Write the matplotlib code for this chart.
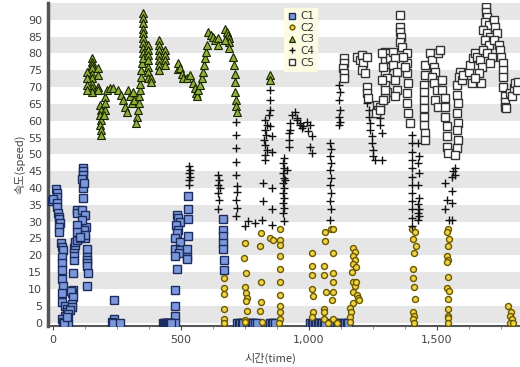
import numpy as np
import matplotlib
matplotlib.use("Agg")
import matplotlib.pyplot as plt
from matplotlib.ticker import MultipleLocator, FuncFormatter

plt.rcParams['font.family'] = ['DejaVu Sans', 'Noto Sans CJK KR']

# (time, speed) points, one list per cluster class
c1_pts = [
    (12, 39.8), (16, 38.6), (16, 37.4), (-4, 36.2), (0, 36.6), (16, 35.6), (16, 34.4),
    (20, 32.6), (23, 31.5), (23, 30.8), (27, 29.7), (23, 28.5), (23, 26.8), (31, 23.7),
    (35, 22.6), (39, 21.7), (35, 19.6), (35, 17.8), (35, 15.7), (35, 13), (39, 10.8),
    (35, 8.9), (35, 6), (47, 5), (55, 4), (55, 3), (47, 2), (35, 1), (39, 0.3), (59, 0),
    (42, 0), (78, 9.8), (74, 8.9), (70, 9.5), (78, 7.7), (74, 5.6), (74, 4.7), (67, 3.6),
    (59, 2.4), (55, 1.5), (78, 14.8), (82, 18.7), (82, 20.7), (82, 22.2), (86, 23.1),
    (86, 24), (94, 24.6), (102, 26.7), (98, 28.5), (106, 25), (125, 25.2), (129, 28.5),
    (133, 22), (133, 19.6), (133, 18.6), (133, 17.8), (133, 16.8), (137, 14.8), (133, 10.8),
    (94, 33.5), (94, 32.6), (113, 33.5), (125, 32), (121, 27.6), (113, 30.6), (94, 29),
    (94, 27), (125, 26), (106, 25.5), (117, 40), (117, 37), (117, 46), (117, 45),
    (117, 44), (113, 42.7), (121, 41.6),
    (239, 6.8), (239, 1), (231, 0.3), (235, 0), (262, 0),
    (485, 32), (489, 31), (497, 30), (481, 29), (489, 27.6), (485, 26.7), (477, 25),
    (497, 24), (477, 22), (497, 21.7), (493, 20.7), (477, 19.9), (485, 16), (477, 9.8),
    (477, 5), (477, 1.8), (477, 0),
    (528, 37.7), (528, 33.8), (528, 30.9), (528, 25.8), (524, 22), (524, 19.6), (524, 19),
    (430, 0), (434, 0), (438, 0), (442, 0), (446, 0), (450, 0), (454, 0), (458, 0), (462, 0),
    (665, 30.9), (665, 27.6), (665, 25.8), (665, 23.7), (665, 22), (669, 18.7), (669, 15.7),
    (720, 0), (726, 0), (732, 0), (738, 0), (744, 0), (760, 0), (766, 0), (772, 0), (778, 0),
    (784, 0), (790, 0), (796, 0), (850, 0), (856, 0), (862, 0), (868, 0),
    (1005, 0), (1011, 0), (1017, 0), (1023, 0), (1029, 0), (1035, 0), (1041, 0), (1047, 0),
    (1053, 0), (1059, 0), (1065, 0), (1098, 0), (1104, 0), (1110, 0), (1116, 0),
    (1136, 0), (1142, 0), (1148, 0), (1154, 0),
]

c2_pts = [
    (669, 13.3), (669, 10.4), (669, 8.5), (669, 3.9), (669, 1), (669, 0),
    (750, 23.7), (746, 19.2), (755, 14.8), (750, 10.7), (755, 8.9), (759, 7.4), (755, 6.3),
    (759, 3.3), (750, 0.9), (752, 0.3),
    (814, 26.7), (810, 22.8), (814, 11.9), (814, 6.2), (810, 3.3), (818, 0.3),
    (849, 25.2), (861, 24.6), (888, 27.9), (888, 24.6), (888, 23), (888, 19.9), (888, 16),
    (888, 11.9), (888, 8.3), (888, 5), (889, 3), (889, 1), (884, 0),
    (1013, 20.8), (1013, 16.9), (1013, 14.2), (1013, 10), (1017, 8), (1017, 3), (1013, 1.5),
    (1064, 26.8), (1064, 24.3), (1060, 16.9), (1060, 14.2), (1068, 9), (1060, 4), (1060, 3),
    (1060, 1), (1088, 27.9), (1095, 27.9), (1095, 20.8), (1095, 14.8), (1095, 11.9),
    (1095, 9), (1091, 6.8), (1095, 1), (1076, 0), (1111, 0),
    (1173, 22.2), (1181, 21), (1173, 19.8), (1181, 18.6), (1173, 17.4), (1185, 16.5),
    (1173, 11.9), (1180, 11), (1173, 9), (1188, 8.2), (1192, 7.4), (1196, 6.8), (1173, 5.8),
    (1162, 4.4), (1166, 3), (1162, 1.5), (1162, 0.3), (1170, 15), (1185, 12),
    (1405, 27.9), (1416, 27), (1409, 24.9), (1420, 22.8), (1412, 20.8), (1409, 16),
    (1409, 13.3), (1412, 10.7), (1416, 7.1), (1409, 3), (1412, 2), (1409, 1), (1412, 0),
    (1545, 27.9), (1541, 27), (1549, 24.9), (1545, 22.8), (1541, 19.9), (1545, 18.7),
    (1541, 18.1), (1545, 13.4), (1541, 10.2), (1549, 9.5), (1545, 7.1), (1545, 4),
    (1545, 2), (1545, 1.2), (1545, 0),
    (1780, 5), (1792, 3), (1788, 2), (1796, 1), (1788, 0), (1800, 0),
]

c3_pts = [
    (153, 78.6), (153, 77.4), (153, 76.5), (153, 75.6), (153, 74), (153, 72.6), (153, 71),
    (153, 69.7), (153, 68.5), (133, 74.5), (133, 72.6), (133, 70.6), (133, 69.1),
    (176, 75.6), (176, 73.6), (176, 70), (176, 69.1),
    (184, 64.7), (188, 63.2), (184, 61.7), (188, 60.2), (184, 58.8), (186, 57.3), (186, 55.8),
    (203, 67), (203, 65.2), (203, 63.2), (199, 61.7), (211, 69.1), (223, 69.7), (235, 69.7),
    (256, 69.1), (266, 67.7), (275, 66.2), (282, 64.2), (288, 62.7), (295, 69.1),
    (301, 67.2), (308, 65.2), (314, 68.6), (318, 66.2), (327, 61), (325, 59.4),
    (334, 63.2), (336, 65.2), (338, 67.2), (340, 69.1), (342, 71), (344, 73), (346, 75),
    (348, 77), (352, 91.9), (352, 90.4), (352, 88.9), (352, 87.4), (352, 86), (352, 84.5),
    (352, 83), (352, 81.5), (352, 80), (352, 78.5),
    (372, 82.5), (372, 81), (372, 79.6), (372, 78), (372, 76.1), (372, 74.6), (372, 72.6),
    (383, 72.6), (383, 71.6),
    (413, 83.9), (413, 82.5), (413, 81), (413, 79.6), (413, 78), (413, 76.5), (413, 75),
    (438, 81), (438, 79.6), (438, 78), (438, 76.5),
    (488, 75.5), (489, 77), (495, 75.6), (503, 74), (509, 72.6), (524, 72.6), (536, 73.6),
    (549, 71.1), (556, 69.6), (558, 68.1), (562, 67.2), (569, 69.1), (575, 70.6),
    (584, 72.6), (588, 74.6), (592, 76.5), (595, 78.5), (597, 80.4), (601, 82.5),
    (608, 86.5), (618, 85.4), (627, 85), (634, 84), (644, 84.5), (645, 82.5),
    (673, 87.4), (680, 86.5), (686, 85.4), (690, 84.5), (687, 83.5), (673, 84), (690, 81.5),
    (705, 79), (709, 76.5), (712, 74), (712, 71.6), (712, 68.6), (715, 66.2), (715, 64.4),
    (719, 62.7), (849, 73.6), (849, 72.1),
]

c4_pts = [
    (716, 59.7), (716, 55.8), (716, 51.8), (716, 47.7), (716, 43.9), (720, 40.7),
    (720, 38.7), (716, 36.5), (720, 34), (716, 31.8),
    (530, 46.4), (534, 45.4), (530, 44.4), (534, 43.4), (530, 42.4), (532, 41),
    (645, 43.9), (649, 42.4), (645, 41), (653, 40), (645, 38.5), (649, 36.5), (645, 33.6),
    (751, 28.6), (762, 30.1), (790, 29.6),
    (849, 69.1), (849, 66.2), (849, 63.2), (845, 61.7), (829, 60.2), (836, 58.8),
    (829, 57.3), (833, 55.8), (826, 54.3), (829, 52.8), (836, 51.3), (829, 49.9),
    (829, 48.4), (849, 58.3), (855, 55.3), (855, 50.8), (823, 41.6), (855, 40), (823, 36),
    (855, 33.6), (819, 30.6), (855, 29.1),
    (905, 48.9), (900, 47.4), (905, 45.9), (900, 44.4), (905, 43), (900, 41.5), (905, 40),
    (900, 38.5), (905, 37.1), (900, 35.6), (905, 34.1), (900, 32.6), (905, 30.1),
    (927, 59.2), (934, 61.7), (947, 62.7), (953, 60.2), (966, 58.8), (979, 58.3),
    (921, 56.3), (921, 54.3), (921, 52.3), (927, 57.3), (953, 60.7), (966, 59.2),
    (973, 57.8), (992, 59.7), (999, 56.8), (1005, 58.8), (1012, 55.3), (1005, 52.3),
    (1012, 50.4), (914, 45.4), (907, 42.4),
    (1085, 53.3), (1088, 51.5), (1085, 49.6), (1088, 47.4), (1085, 45.4), (1088, 42.9),
    (1085, 41), (1088, 38.5), (1085, 36.1), (1088, 33.6), (1085, 30.6),
    (1120, 70.6), (1122, 68.6), (1120, 66.2), (1122, 63.2), (1120, 61.2), (1122, 59.7),
    (1120, 58.8),
    (1227, 65.2), (1234, 63.2), (1234, 61.2), (1240, 59.2), (1240, 57.3), (1247, 55.3),
    (1247, 53.3), (1251, 51.3), (1253, 49.4), (1266, 64.2), (1273, 62.2), (1279, 60.7),
    (1279, 58.8), (1286, 56.3), (1286, 48.4), (1260, 48.4),
    (1405, 55.8), (1405, 53.3), (1405, 50.8), (1405, 48.4), (1405, 45.9), (1405, 43.4),
    (1405, 41), (1405, 38.5), (1405, 36), (1405, 33.6), (1405, 31.1), (1405, 28.6),
    (1428, 53.3), (1432, 49.4), (1428, 47.4), (1432, 44.4), (1428, 41), (1432, 37.1),
    (1428, 35.1), (1432, 33.6), (1428, 32.6), (1432, 31.6), (1428, 30.6),
    (1573, 45.9), (1566, 44.9), (1570, 43.9), (1560, 43.4), (1534, 41.6), (1560, 39),
    (1540, 36.5), (1560, 35.5), (1534, 33.6), (1547, 30.6), (1560, 30.6),
]

c5_pts = [
    (1136, 78.5), (1136, 77.1), (1133, 75.6), (1136, 74.1), (1136, 72.6),
    (1188, 79), (1201, 78), (1207, 79.5), (1214, 77.1), (1207, 75.1), (1220, 74.1),
    (1227, 70.1), (1227, 68.2), (1233, 66.7), (1227, 79),
    (1266, 64.7), (1272, 63.2), (1263, 62.2), (1279, 64.2),
    (1299, 80.5), (1305, 79), (1299, 77.6), (1302, 76.1), (1299, 74.6), (1305, 72.6),
    (1299, 70.6), (1305, 68.6), (1299, 66.7), (1312, 80), (1318, 78.5),
    (1286, 80), (1292, 76.1), (1286, 72.1), (1299, 69.1), (1292, 66.2), (1279, 63.2),
    (1331, 80.5), (1338, 78.5), (1331, 76.6), (1344, 74.6), (1338, 72.1), (1344, 69.1),
    (1338, 67.2),
    (1357, 91.4), (1355, 87.9), (1357, 86.5), (1360, 85), (1357, 83.5), (1364, 82),
    (1383, 80), (1386, 77.1), (1383, 74.1), (1390, 71.1), (1386, 68.2), (1383, 65.2),
    (1390, 62.2), (1396, 59.3), (1377, 76.1), (1370, 79),
    (1455, 76.6), (1455, 73.6), (1452, 70.6), (1452, 68.6), (1452, 66.2), (1452, 63.7),
    (1452, 61.2), (1452, 58.8), (1455, 56.3), (1455, 54.3),
    (1475, 80), (1481, 78), (1488, 76), (1494, 74.6), (1481, 73.1), (1488, 71.1),
    (1501, 69.1), (1494, 66.2), (1507, 64.2), (1507, 80), (1514, 81), (1522, 72), (1522, 69),
    (1533, 66.7), (1533, 64.2), (1533, 61.2), (1540, 58.3), (1540, 55.3), (1540, 52.3),
    (1546, 50.3),
    (1579, 70.6), (1579, 67.6), (1583, 65.2), (1579, 62.2), (1583, 59.2), (1579, 57.3),
    (1583, 54.3), (1579, 51.8), (1572, 49.9),
    (1592, 74.6), (1586, 73.1), (1599, 72.1), (1605, 73.6),
    (1625, 74.6), (1631, 76.6), (1644, 78.5), (1651, 80), (1657, 79), (1670, 78),
    (1677, 76.1), (1664, 74.1), (1674, 71.1), (1638, 71.1), (1651, 72.6),
    (1692, 93.9), (1692, 92.4), (1696, 90.9), (1690, 89.4), (1703, 88.4), (1683, 87),
    (1696, 86), (1709, 85), (1690, 84), (1703, 82.5), (1683, 81), (1696, 80), (1716, 79),
    (1709, 77.1),
    (1726, 89.9), (1729, 87.9), (1735, 86), (1726, 84), (1742, 82.5), (1749, 81),
    (1753, 79), (1758, 77.1), (1758, 75.1), (1758, 73.1),
    (1758, 70.1), (1766, 67.2), (1768, 65.7), (1766, 64.2), (1771, 63.7), (1788, 68.1),
    (1794, 67.2), (1801, 69.6), (1807, 71.1), (1820, 71.6), (1814, 69.1),
]

labels = ['C1', 'C2', 'C3', 'C4', 'C5']
yticks = list(range(0, 95, 5))
xticks = [0, 500, 1000, 1500]
styles = [
    dict(marker='s', ms=5.3, mfc='#7b98dc', mec='#1c2c5c', mew=1.0),
    dict(marker='o', ms=4.3, mfc='#f0d444', mec='#6a5800', mew=1.0),
    dict(marker='^', ms=5.5, mfc='#8db03a', mec='#1a2400', mew=0.8),
    dict(marker='+', ms=6, color='#111111', mew=1.0),
    dict(marker='s', ms=6, mfc='white', mec='#333333', mew=1.0),
]

fig = plt.figure(figsize=(5.2, 3.67), dpi=100)
ax = fig.add_axes([0.092, 0.112, 0.908, 0.880])

# alternating grey bands every 5 units
for lo in range(0, 95, 10):
    ax.axhspan(lo, lo + 5, color='#e6e6e6', lw=0, zorder=0)

for pts, lab, st in zip([c1_pts, c2_pts, c3_pts, c4_pts, c5_pts], labels, styles):
    arr = np.array(pts)
    ax.plot(arr[:, 0], arr[:, 1], ls='none', label=lab, zorder=3, **st)

ax.set_xlim(-20, 1826)
ax.set_ylim(-1, 95)
ax.set_yticks(yticks)
ax.set_xticks(xticks)
ax.xaxis.set_minor_locator(MultipleLocator(125))
ax.xaxis.set_major_formatter(FuncFormatter(lambda v, p: f'{int(v):,}'))

for s in ['top', 'right']:
    ax.spines[s].set_visible(False)
ax.spines['left'].set_color('#555555')
ax.spines['left'].set_linewidth(2.5)
ax.spines['bottom'].set_color('#555555')
ax.spines['bottom'].set_linewidth(1.5)
ax.tick_params(axis='both', labelsize=8, colors='#444444', length=3, width=0.8)
ax.tick_params(axis='y', length=0, pad=4)
ax.tick_params(axis='x', which='minor', length=2, color='#777777')

ax.set_ylabel('속도(speed)', fontsize=8, color='#444444',
              family=['Noto Sans CJK KR', 'DejaVu Sans'], labelpad=2)
ax.set_xlabel('시간(time)', fontsize=8, color='#444444',
              family=['Noto Sans CJK KR', 'DejaVu Sans'], labelpad=3)
ax.xaxis.set_label_coords(0.472, -0.085)

leg = ax.legend(loc='upper left', bbox_to_anchor=(0.49, 1.0), fontsize=7.5,
                frameon=True, fancybox=False, handlelength=0.8, handletextpad=0.4,
                borderpad=0.3, labelspacing=0.15, markerscale=0.8)
leg.get_frame().set_facecolor('#fdfbe2')
leg.get_frame().set_edgecolor('#fdfbe2')
leg.get_frame().set_alpha(1)
for t in leg.get_texts():
    t.set_color('#333333')

fig.savefig('out.png', dpi=100)
